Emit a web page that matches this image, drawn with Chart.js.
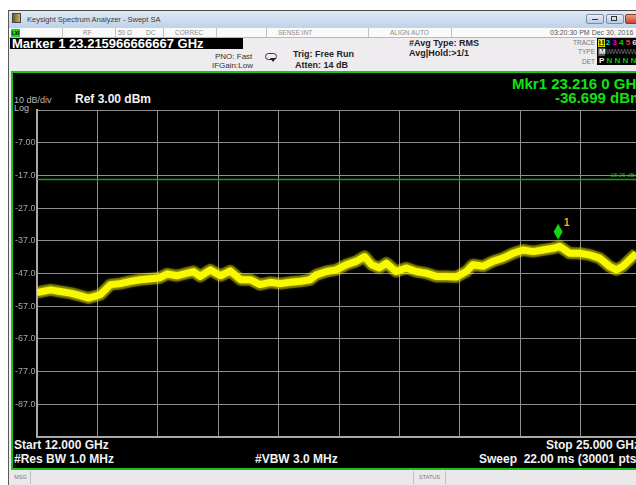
<!DOCTYPE html>
<html>
<head>
<meta charset="utf-8">
<script src="https://cdn.jsdelivr.net/npm/chart.js@4"></script>
<style>
body { margin: 0; width: 636px; height: 485px; overflow: hidden; background: #fff; position: relative; font-family: "Liberation Sans", Arial, sans-serif; }
.a { position: absolute; white-space: nowrap; }
.sep { position: absolute; top: 28px; height: 9px; border-left: 1px solid #c4c4c4; }
.st { position: absolute; top: 28px; font-size: 6.5px; color: #8a8a8a; line-height: 9px; }
.hdr { font-size: 8px; color: #333; line-height: 9px; }
.hb { font-size: 9px; font-weight: bold; color: #222; line-height: 10px; }
.lbl { font-size: 6.5px; color: #777; text-align: right; width: 30px; line-height: 8px; }
.w { color: #f2f2f2; font-weight: bold; font-size: 12px; line-height: 13px; }
.g { color: #14e014; font-weight: bold; font-size: 15px; line-height: 15px; }
#chart { position: absolute; left: 0; top: 0; z-index: 5; }
</style>
</head>
<body>
<!-- window frame -->
<div class="a" style="left:8px;top:10px;width:640px;height:480px;background:#efecef;border-left:1px solid #5a5a5a;border-top:1px solid #4a4a4a;"></div>
<div class="a" style="left:9px;top:11px;width:640px;height:17px;background:linear-gradient(#dfe9f5,#bfd2e9);"></div>
<div class="a" style="left:12px;top:13px;width:9px;height:10px;background:linear-gradient(90deg,#6b5a2a,#c9b45a);border:1px solid #444;box-sizing:border-box;"></div>
<div class="a" style="left:27px;top:15px;font-size:7.5px;color:#3a3a3a;">Keysight Spectrum Analyzer - Swept SA</div>
<div class="a" style="left:586px;top:14px;width:18px;height:10px;border:1px solid #7d8ea6;border-radius:2px;background:linear-gradient(#e6eef8,#b9cbe2);box-sizing:border-box;"></div>
<div class="a" style="left:592px;top:19px;width:6px;height:1px;background:#333;"></div>
<div class="a" style="left:606px;top:14px;width:18px;height:10px;border:1px solid #7d8ea6;border-radius:2px;background:linear-gradient(#e6eef8,#b9cbe2);box-sizing:border-box;"></div>
<div class="a" style="left:611px;top:16px;width:6px;height:5px;border:1px solid #333;box-sizing:border-box;"></div>
<div class="a" style="left:625px;top:14px;width:20px;height:10px;border:1px solid #8a3a2a;border-radius:2px;background:linear-gradient(#ef9b86,#c8452c);box-sizing:border-box;"></div>

<!-- status row -->
<div class="a" style="left:9px;top:28px;width:640px;height:9px;background:#fafafa;border-bottom:1px solid #b8b8b8;"></div>
<div class="a" style="left:11px;top:29px;width:9px;height:8px;background:#1ed21e;font-size:5px;line-height:8px;color:#000;font-weight:bold;text-align:center;">LXI</div>
<div class="sep" style="left:62px"></div>
<div class="sep" style="left:115px"></div>
<div class="sep" style="left:163px"></div>
<div class="sep" style="left:216px"></div>
<div class="sep" style="left:266px"></div>
<div class="sep" style="left:368px"></div>
<div class="sep" style="left:451px"></div>
<div class="st" style="left:83px">RF</div>
<div class="st" style="left:118px">50 Ω</div>
<div class="st" style="left:146px">DC</div>
<div class="st" style="left:175px">CORREC</div>
<div class="st" style="left:278px">SENSE:INT</div>
<div class="st" style="left:390px">ALIGN AUTO</div>
<div class="st" style="left:550px;color:#555;font-size:7px;">03:20:30 PM Dec 30, 2016</div>

<!-- marker box -->
<div class="a" style="left:10px;top:38px;width:233px;height:11px;background:#000;"></div>
<div class="a" style="left:12px;top:37px;color:#fff;font-weight:bold;font-size:13px;line-height:13px;">Marker 1 23.215966666667 GHz</div>

<!-- settings -->
<div class="a hdr" style="left:215px;top:52px;">PNO: Fast</div>
<div class="a hdr" style="left:212px;top:61px;">IFGain:Low</div>
<div class="a" style="left:265px;top:53px;width:12px;height:7px;border:1px solid #333;border-radius:4px;box-sizing:border-box;"></div>
<div class="a" style="left:270px;top:58px;width:0;height:0;border-left:3px solid transparent;border-right:3px solid transparent;border-top:4px solid #222;"></div>
<div class="a hb" style="left:293px;top:49px;">Trig: Free Run</div>
<div class="a hb" style="left:295px;top:60px;">Atten: 14 dB</div>
<div class="a hb" style="left:409px;top:38px;">#Avg Type: RMS</div>
<div class="a hb" style="left:409px;top:48px;">Avg|Hold:&gt;1/1</div>
<div class="a lbl" style="left:565px;top:39px;">TRACE</div>
<div class="a lbl" style="left:565px;top:48px;">TYPE</div>
<div class="a lbl" style="left:565px;top:58px;">DET</div>
<div class="a" style="left:597px;top:38px;width:45px;height:27px;background:#000;"></div>
<div class="a" style="left:598px;top:39px;width:7px;height:8px;background:#4a4a00;border:1px solid #d8d800;box-sizing:border-box;"></div>
<div class="a" style="left:599px;top:38px;font-size:8px;font-weight:bold;line-height:10px;letter-spacing:2.2px;"><span style="color:#ffff00">1</span><span style="color:#00d8d8">2</span><span style="color:#e000e0">3</span><span style="color:#00d800">4</span><span style="color:#ff3030">5</span><span style="color:#e0e0e0">6</span></div>
<div class="a" style="left:598px;top:48px;width:7px;height:8px;background:#555;"></div>
<div class="a" style="left:599px;top:47px;font-size:8px;font-weight:bold;line-height:10px;color:#fff;">M</div>
<div class="a" style="left:606px;top:47px;font-size:7px;line-height:10px;color:#777;letter-spacing:-0.5px;">WWWWWW</div>
<div class="a" style="left:599px;top:56px;font-size:8px;font-weight:bold;line-height:10px;color:#fff;letter-spacing:2.2px;">P<span style="color:#10c010">NNNNN</span></div>

<!-- display panel -->
<div class="a" style="left:11px;top:71px;width:650px;height:399px;background:#000;border:2px solid #17c417;box-sizing:border-box;"></div>
<div class="a g" style="left:512px;top:76px;">Mkr1 23.216 0 GHz</div>
<div class="a g" style="left:555px;top:90px;">-36.699 dBm</div>
<div class="a" style="left:14px;top:96px;font-size:9px;color:#b8b8b8;line-height:9px;">10 dB/div</div>
<div class="a" style="left:14px;top:104px;font-size:9px;color:#b8b8b8;line-height:9px;">Log</div>
<div class="a w" style="left:75px;top:93px;">Ref 3.00 dBm</div>
<div class="a w" style="left:14px;top:439px;">Start 12.000 GHz</div>
<div class="a w" style="left:14px;top:453px;">#Res BW 1.0 MHz</div>
<div class="a w" style="left:255px;top:453px;">#VBW 3.0 MHz</div>
<div class="a w" style="left:546px;top:439px;">Stop 25.000 GHz</div>
<div class="a w" style="left:479px;top:453px;">Sweep&nbsp; 22.00 ms (30001 pts)</div>

<!-- bottom bar -->
<div class="a" style="left:9px;top:470px;width:640px;height:15px;background:#ebe8eb;"></div>
<div class="a" style="left:11px;top:471px;width:19px;height:13px;border-right:1px solid #c0c0c0;font-size:5.5px;color:#777;line-height:13px;text-align:center;">MSG</div>
<div class="a" style="left:413px;top:471px;width:31px;height:13px;border-left:1px solid #c0c0c0;border-right:1px solid #c0c0c0;font-size:5.5px;color:#777;line-height:13px;text-align:center;">STATUS</div>

<canvas id="chart" width="660" height="485"></canvas>

<script>
// sweep 12 - 25 GHz, trace 1 (RMS average)
const freqGHz = [12.00, 12.29, 12.50, 12.72, 12.93, 13.11, 13.36, 13.58, 13.79, 14.01,
	14.22, 14.44, 14.65, 14.80, 15.01, 15.23, 15.37, 15.51, 15.73, 15.95,
	16.16, 16.38, 16.59, 16.80, 17.02, 17.24, 17.45, 17.67, 17.88, 18.01,
	18.23, 18.44, 18.66, 18.87, 19.05, 19.20, 19.37, 19.52, 19.73, 19.95,
	20.16, 20.38, 20.59, 20.81, 21.02, 21.24, 21.38, 21.60, 21.81, 22.03,
	22.25, 22.46, 22.68, 22.89, 23.11, 23.25, 23.46, 23.68, 23.89, 24.11,
	24.32, 24.47, 24.61, 24.79, 24.90];
const levelDbm = [-52.8, -52.0, -52.5, -53.0, -53.8, -54.5, -53.5, -50.4, -50.1, -49.4,
	-48.9, -48.6, -48.3, -47.1, -47.7, -46.9, -46.4, -47.9, -45.9, -47.7,
	-46.2, -48.9, -48.9, -50.4, -49.7, -50.1, -49.7, -49.4, -48.9, -47.4,
	-46.4, -45.9, -44.3, -43.3, -41.8, -44.3, -45.3, -43.8, -46.4, -45.3,
	-46.4, -46.9, -47.9, -47.9, -48.1, -46.4, -44.3, -44.8, -43.3, -42.3,
	-40.8, -39.8, -40.3, -39.8, -39.3, -38.7, -40.8, -40.8, -41.3, -42.3,
	-44.8, -45.9, -44.8, -42.3, -40.8];

const yTicks = [3, -7, -17, -27, -37, -47, -57, -67, -77, -87, -97];
const xTicks = [12, 13.3, 14.6, 15.9, 17.2, 18.5, 19.8, 21.1, 22.4, 23.7, 25];
const markerFreq = 23.216;
const markerLevel = -36.699;
const displayLine = -18.25;

const traceData = freqGHz.map((f, i) => ({ x: f, y: levelDbm[i] }));

// soft glow on the trace, like the noisy band on screen
const glowPlugin = {
	id: 'glow',
	beforeDatasetDraw: function (chart, args) {
		if (args.index === 2) {
			chart.ctx.save();
			chart.ctx.shadowColor = 'rgba(255,255,0,0.9)';
			chart.ctx.shadowBlur = 4;
		}
	},
	afterDatasetDraw: function (chart, args) {
		if (args.index === 2) chart.ctx.restore();
	}
};

const markerPlugin = {
	id: 'marker',
	afterDatasetsDraw: function (chart) {
		const ctx = chart.ctx;
		const x = chart.scales.x, y = chart.scales.y;
		const px = x.getPixelForValue(markerFreq);
		const py = y.getPixelForValue(markerLevel);
		ctx.save();
		// marker diamond
		ctx.beginPath();
		ctx.moveTo(px, py - 16);
		ctx.lineTo(px + 4.5, py - 8);
		ctx.lineTo(px, py);
		ctx.lineTo(px - 4.5, py - 8);
		ctx.closePath();
		ctx.fillStyle = '#12d812';
		ctx.fill();
		ctx.fillStyle = '#e6c400';
		ctx.font = 'bold 10px "Liberation Sans"';
		ctx.textBaseline = 'middle';
		ctx.fillText('1', px + 6, py - 17);
		// display line label
		ctx.fillStyle = '#22b022';
		ctx.font = '6px "Liberation Sans"';
		ctx.textBaseline = 'bottom';
		ctx.fillText('-18.25 dBm', x.getPixelForValue(24.3), y.getPixelForValue(displayLine) - 1);
		ctx.restore();
	}
};

Chart.defaults.font.family = '"Liberation Sans", Arial, sans-serif';

new Chart(document.getElementById('chart'), {
	type: 'line',
	data: {
		datasets: [
			{
				// display line
				data: [{ x: 12, y: displayLine }, { x: 25, y: displayLine }],
				borderColor: '#169e16',
				borderWidth: 1.5,
				pointRadius: 0,
			},
			{
				data: traceData,
				borderColor: 'rgba(235,235,0,0.35)',
				borderWidth: 12,
				pointRadius: 0,
				borderJoinStyle: 'round',
			},
			{
				data: traceData,
				borderColor: '#ffff00',
				borderWidth: 7,
				pointRadius: 0,
				borderJoinStyle: 'round',
			},
		]
	},
	options: {
		responsive: false,
		animation: false,
		devicePixelRatio: 1,
		layout: { padding: { left: 15, top: 110, right: 19, bottom: 48 } },
		plugins: { legend: { display: false }, tooltip: { enabled: false } },
		scales: {
			x: {
				type: 'linear',
				min: 12,
				max: 25,
				afterBuildTicks: (s) => { s.ticks = xTicks.map(v => ({ value: v })); },
				afterFit: (s) => { s.height = 0; },
				ticks: { display: false },
				grid: { color: '#8e8e8e', lineWidth: 1, drawTicks: false },
				border: { color: '#a8a8a8', width: 2 }
			},
			y: {
				min: -97,
				max: 3,
				afterBuildTicks: (s) => { s.ticks = yTicks.map(v => ({ value: v })); },
				afterFit: (s) => { s.width = 22; },
				ticks: {
					color: '#a8a8a8',
					font: { size: 9 },
					padding: 3,
					crossAlign: 'far',
					callback: (v) => (v === 3 || v === -97) ? '' : (v === -7 ? '-7.00' : v.toFixed(1))
				},
				grid: { color: '#8e8e8e', lineWidth: 1, drawTicks: false },
				border: { color: '#a8a8a8', width: 2 }
			}
		}
	},
	plugins: [glowPlugin, markerPlugin]
});
</script>
</body>
</html>
